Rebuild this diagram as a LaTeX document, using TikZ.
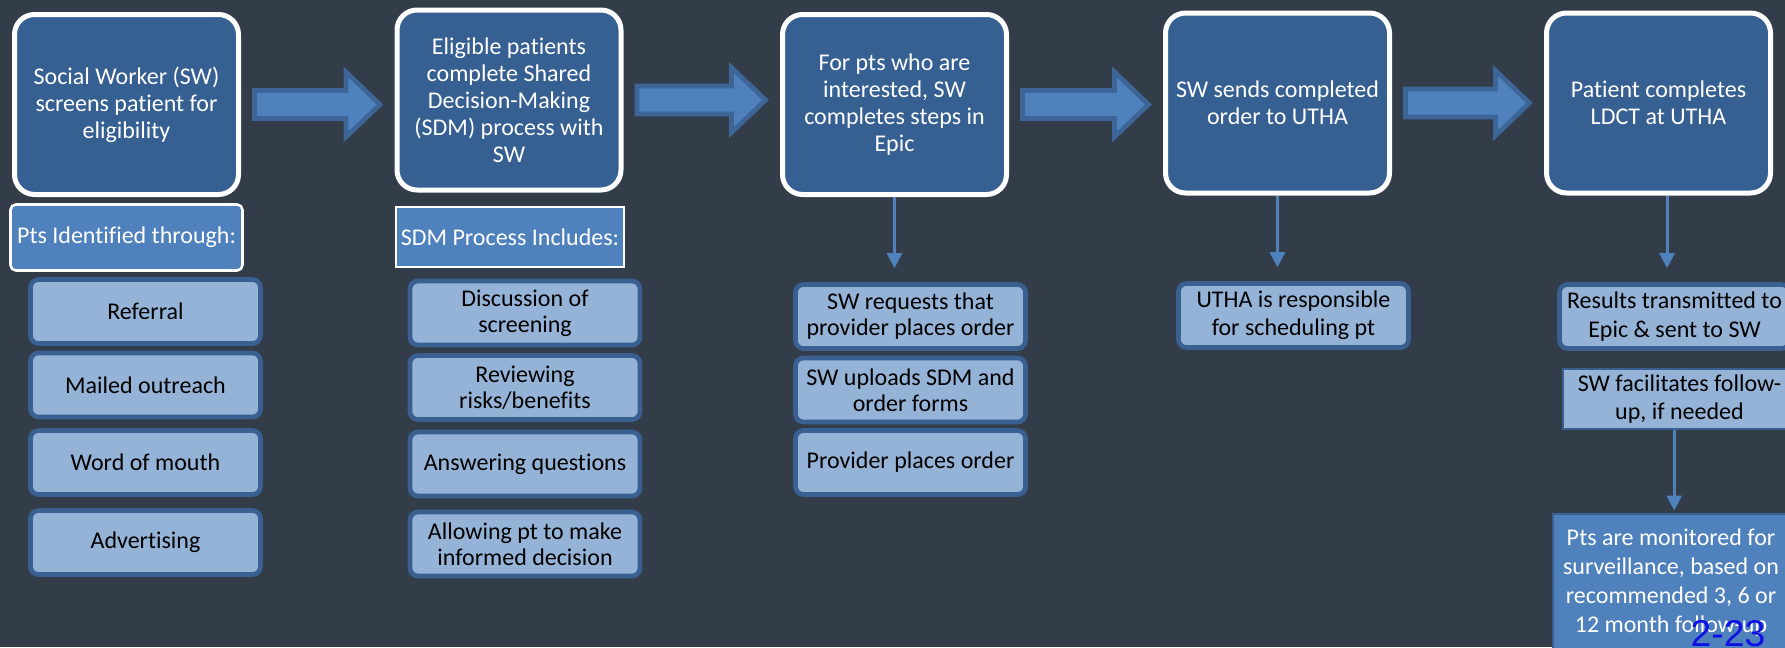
\documentclass[tikz,border=0pt]{standalone}
\usepackage{fontspec}
\setmainfont{Carlito}[Ligatures=NoCommon]
\newfontfamily\arialfont{Liberation Sans}
\usetikzlibrary{arrows.meta,calc}
\definecolor{bgc}{RGB}{50,61,73}
\definecolor{darkbox}{RGB}{55,96,146}
\definecolor{midblue}{RGB}{79,129,189}
\definecolor{edgeblue}{RGB}{58,96,145}
\definecolor{arredge}{RGB}{61,101,152}
\definecolor{lightblue}{RGB}{149,179,215}
\newcommand\blockarr[2]{%
  \coordinate (tmpT) at (#1.east -| #2.west);
  \draw[barrow] ($(#1.east)+(13.5,-14)$) -- ($(tmpT)+(-48.5,-14)$) -- ($(tmpT)+(-48.5,-32.5)$)
     -- ($(tmpT)+(-14.5,0)$) -- ($(tmpT)+(-48.5,32.5)$) -- ($(tmpT)+(-48.5,14)$)
     -- ($(#1.east)+(13.5,14)$) -- cycle;}
\begin{document}
\begin{tikzpicture}[x=0.75pt,y=-0.75pt,
  mainbox/.style={draw=white, line width=3.75pt, fill=darkbox, rounded corners=15pt,
    minimum width=168pt, minimum height=135pt, text=white, align=center,
    font=\fontsize{18}{20.25}\selectfont, inner sep=0pt},
  itembox/.style={draw=edgeblue, line width=3.5pt, fill=lightblue, rounded corners=6pt,
    minimum width=172.5pt, minimum height=48pt, text=black, align=center,
    font=\fontsize{18}{19.5}\selectfont, inner sep=0pt},
  headbox/.style={draw=white, fill=midblue, text=white, align=center,
    font=\fontsize{18}{20}\selectfont, inner sep=0pt},
  thinbox/.style={draw=edgeblue, line width=1.5pt, align=center,
    font=\fontsize{18}{21}\selectfont, inner sep=0pt},
  barrow/.style={draw=arredge, line width=3.5pt, fill=midblue, line join=miter},
  conn/.style={draw=midblue, line width=2.25pt, -{Triangle[width=11.25pt,length=11.25pt]}}
]
\useasboundingbox (0,0) rectangle (1785,647);
\clip (0,0) rectangle (1785,647);
\fill[bgc] (0,0) rectangle (1785,647);

% main boxes
\node[mainbox] (b1) at (126.5,104.5) {Social Worker (SW)\\screens patient for\\eligibility};
\node[mainbox] (b2) at (509,100) {Eligible patients\\complete Shared\\Decision-Making\\(SDM) process with\\SW};
\node[mainbox] (b3) at (894.5,104.5) {For pts who are\\interested, SW\\completes steps in\\Epic};
\node[mainbox] (b4) at (1277.5,103) {SW sends completed\\order to UTHA};
\node[mainbox] (b5) at (1658.5,103) {Patient completes\\LDCT at UTHA};

% header boxes
\node[headbox, line width=1.9pt, rounded corners=4pt, minimum width=174pt, minimum height=49.5pt] (h1) at (126.5,237.5) {Pts Identified through:};
\node[headbox, line width=1.5pt, minimum width=171pt, minimum height=45pt] (h2) at (510,237) {SDM Process Includes:};

% left column items
\node[itembox] (l1) at (145.5,311.5) {Referral};
\node[itembox] (l2) at (145.5,385) {Mailed outreach};
\node[itembox] (l3) at (145.5,462.5) {Word of mouth};
\node[itembox] (l4) at (145.5,542.5) {Advertising};

% SDM items
\node[itembox] (s1) at (525,313) {Discussion of\\screening};
\node[itembox] (s2) at (525,387.5) {Reviewing\\risks/benefits};
\node[itembox] (s3) at (525,464) {Answering questions};
\node[itembox] (s4) at (525,544) {Allowing pt to make\\informed decision};

% Epic items
\node[itembox] (e1) at (910.5,316.5) {SW requests that\\provider places order};
\node[itembox] (e2) at (910.5,390) {SW uploads SDM and\\order forms};
\node[itembox] (e3) at (910.5,462.5) {Provider places order};

% UTHA item
\node[itembox, font=\fontsize{18}{21}\selectfont] (u1) at (1293.5,315.5) {UTHA is responsible\\for scheduling pt};

% right column
\node[itembox, font=\fontsize{18}{21.5}\selectfont] (r1) at (1674.5,316.5) {Results transmitted to\\Epic \& sent to SW};
\node[thinbox, fill=lightblue, text=black, minimum width=174.75pt, minimum height=45pt] (f1) at (1679.5,399) {SW facilitates follow-\\up, if needed};
\node[thinbox, fill=midblue, text=white, font=\fontsize{18}{21.75}\selectfont, minimum width=177.75pt, minimum height=103.5pt] (p1) at (1671,582.5) {Pts are monitored for\\surveillance, based on\\recommended 3, 6 or\\12 month follow-up};
\node[anchor=base, text={rgb,255:red,16;green,16;blue,230}, font=\arialfont\fontsize{28}{28}\selectfont, inner sep=0pt] (n1) at (1728,646) {2-23};

% block arrows
\blockarr{b1}{b2}
\blockarr{b2}{b3}
\blockarr{b3}{b4}
\blockarr{b4}{b5}

% connectors
\draw[conn, shorten >=10.5pt] (b3.south) -- (b3.south |- e1.north);
\draw[conn, shorten >=10.5pt] (b4.south) -- (b4.south |- u1.north);
\draw[conn, shorten >=10.5pt] ([xshift=6.4pt]b5.south) -- ([xshift=6.4pt]b5.south |- r1.north);
\draw[conn, shorten >=1.5pt] ([xshift=-4pt]f1.south) -- ([xshift=-4pt]f1.south |- p1.north);
\end{tikzpicture}
\end{document}
